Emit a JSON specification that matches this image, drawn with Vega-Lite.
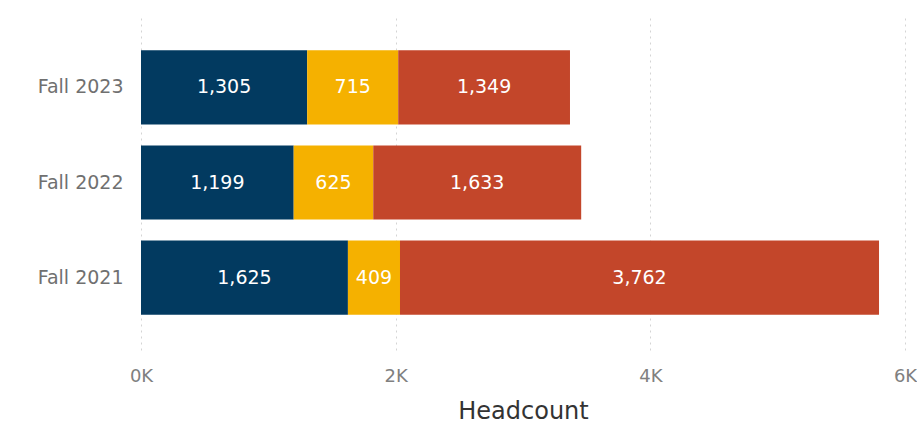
{
  "$schema": "https://vega.github.io/schema/vega-lite/v6.json",
  "autosize": {"type": "none"},
  "padding": {"left": 141, "top": 15, "right": 12, "bottom": 74},
  "width": 764,
  "height": 335,
  "background": "white",
  "config": {
    "font": "DejaVu Sans",
    "view": {"stroke": null}
  },
  "data": {
    "values": [
      {"term": "Fall 2023", "group": "Group 1", "order": 1, "headcount": 1305},
      {"term": "Fall 2023", "group": "Group 2", "order": 2, "headcount": 715},
      {"term": "Fall 2023", "group": "Group 3", "order": 3, "headcount": 1349},
      {"term": "Fall 2022", "group": "Group 1", "order": 1, "headcount": 1199},
      {"term": "Fall 2022", "group": "Group 2", "order": 2, "headcount": 625},
      {"term": "Fall 2022", "group": "Group 3", "order": 3, "headcount": 1633},
      {"term": "Fall 2021", "group": "Group 1", "order": 1, "headcount": 1625},
      {"term": "Fall 2021", "group": "Group 2", "order": 2, "headcount": 409},
      {"term": "Fall 2021", "group": "Group 3", "order": 3, "headcount": 3762}
    ]
  },
  "encoding": {
    "y": {
      "field": "term", "type": "nominal",
      "sort": ["Fall 2023", "Fall 2022", "Fall 2021"],
      "scale": {"paddingInner": 0.22, "paddingOuter": 0.37},
      "axis": {"title": null, "domain": false, "ticks": false, "labelPadding": 18, "labelFontSize": 19, "labelColor": "#707070"}
    },
    "order": {"field": "order", "type": "quantitative"}
  },
  "layer": [
    {
      "mark": {"type": "bar"},
      "encoding": {
        "x": {
          "field": "headcount", "type": "quantitative", "stack": "zero",
          "scale": {"domain": [0, 6000], "nice": false},
          "axis": {
            "values": [0, 2000, 4000, 6000],
            "labelExpr": "datum.value / 1000 + 'K'",
            "labelFlush": false, "labelOverlap": false, "labelBound": false,
            "domain": false, "ticks": false,
            "grid": true, "gridDash": [2, 4], "gridColor": "#d4d4d4", "gridWidth": 1,
            "labelFontSize": 18, "labelColor": "#808080", "labelPadding": 17,
            "title": "Headcount", "titleFontSize": 24, "titleFontWeight": "normal", "titleColor": "#333333", "titlePadding": 14
          }
        },
        "color": {
          "field": "group", "type": "nominal",
          "scale": {"domain": ["Group 1", "Group 2", "Group 3"], "range": ["#023a60", "#f5b100", "#c3462a"]},
          "legend": null
        }
      }
    },
    {
      "mark": {"type": "text", "color": "white", "fontSize": 19, "baseline": "middle", "align": "center"},
      "encoding": {
        "x": {"field": "headcount", "type": "quantitative", "stack": "zero", "bandPosition": 0.5},
        "text": {"field": "headcount", "type": "quantitative", "format": ","}
      }
    }
  ]
}
